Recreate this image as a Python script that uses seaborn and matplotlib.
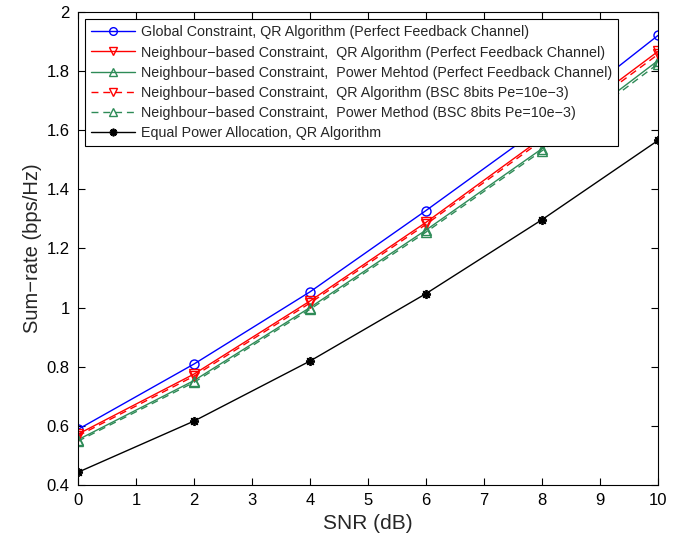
import numpy as np
import pandas as pd
import matplotlib
matplotlib.use("Agg")
import matplotlib.pyplot as plt
import seaborn as sns

# SNR points (dB)
snr = [0, 2, 4, 6, 8, 10]

# sum-rate values (bps/Hz)
global_qr = [0.588, 0.809, 1.053, 1.328, 1.612, 1.920]
nb_qr_perfect = [0.572, 0.775, 1.022, 1.288, 1.573, 1.866]
nb_pm_perfect = [0.553, 0.753, 1.000, 1.262, 1.537, 1.835]
nb_qr_bsc = [0.566, 0.768, 1.015, 1.281, 1.565, 1.856]
nb_pm_bsc = [0.548, 0.747, 0.994, 1.255, 1.530, 1.824]
equal_power = [0.443, 0.616, 0.819, 1.047, 1.297, 1.565]

labels = [
    "Global Constraint, QR Algorithm (Perfect Feedback Channel)",
    "Neighbour\u2212based Constraint,  QR Algorithm (Perfect Feedback Channel)",
    "Neighbour\u2212based Constraint,  Power Mehtod (Perfect Feedback Channel)",
    "Neighbour\u2212based Constraint,  QR Algorithm (BSC 8bits Pe=10e\u22123)",
    "Neighbour\u2212based Constraint,  Power Method (BSC 8bits Pe=10e\u22123)",
    "Equal Power Allocation, QR Algorithm",
]
series = [global_qr, nb_qr_perfect, nb_pm_perfect, nb_qr_bsc, nb_pm_bsc, equal_power]

colors = ["#0000ff", "#ff0000", "#2e8b57", "#ff0000", "#2e8b57", "#000000"]
markers = ["o", "v", "^", "v", "^", (8, 2, 0)]
dashes = ["-", "-", "-", (0, (5, 3.5)), (0, (5, 3.5)), "-"]

sns.set_style("white")
plt.rcParams["font.family"] = ["Liberation Sans", "DejaVu Sans"]

fig = plt.figure(figsize=(6.86, 5.35), dpi=100)
ax = fig.add_axes([0.1137, 0.0935, 0.8455, 0.8845])

for vals, lab, c, m, ls in zip(series, labels, colors, markers, dashes):
    df = pd.DataFrame({"snr": snr, "rate": vals})
    sns.lineplot(data=df, x="snr", y="rate", ax=ax, color=c, marker=m,
                 markersize=6.5, markerfacecolor="none",
                 markeredgecolor=c, markeredgewidth=1.0 if m != (8, 2, 0) else 1.3,
                 linewidth=1.0, linestyle=ls, label=lab)

ax.set_xlim(0, 10)
ax.set_ylim(0.4, 2.0)
ax.set_xticks(range(0, 11))
ax.set_yticks(np.arange(0.4, 2.01, 0.2))
ax.set_yticklabels(["0.4", "0.6", "0.8", "1", "1.2", "1.4", "1.6", "1.8", "2"])
ax.tick_params(direction="in", length=5, width=0.8, labelsize=12, colors="black",
               top=True, right=True, bottom=True, left=True, pad=6)
for sp in ax.spines.values():
    sp.set_color("black")
    sp.set_linewidth(0.8)

ax.set_xlabel("SNR (dB)", fontsize=15, labelpad=4)
ax.set_ylabel("Sum\u2212rate (bps/Hz)", fontsize=14.5, labelpad=3)

leg = ax.legend(loc="upper left", fontsize=10.3, frameon=True, fancybox=False,
                framealpha=1, edgecolor="black", handlelength=3.1,
                borderpad=0.42, labelspacing=0.43, handletextpad=0.4,
                markerscale=0.85,
                bbox_to_anchor=(0.0116, 0.984), borderaxespad=0)
leg.get_frame().set_linewidth(0.8)

fig.savefig("out.png", dpi=100)
